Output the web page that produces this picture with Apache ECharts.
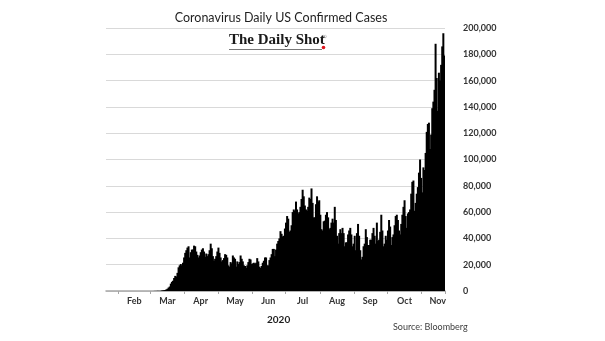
<!DOCTYPE html>
<html><head><meta charset="utf-8">
<script src="https://cdn.jsdelivr.net/npm/echarts@6/dist/echarts.min.js"></script>
<style>html,body{margin:0;padding:0;background:#fff}#c{width:605px;height:341px}</style>
</head><body><div id="c"></div>
<script>
const titleText = 'Coronavirus Daily US Confirmed Cases';
const xTitle = '2020';
const sourceText = 'Source: Bloomberg';
const logoText = 'The Daily Shot';
const monthLabels = ['Jan','Feb','Mar','Apr','May','Jun','Jul','Aug','Sep','Oct','Nov','Dec'];
const yMin = 0, yMax = 200000, yStep = 20000;
const startYear = 2020, startMonth = 0, startDay = 21;

// Daily confirmed cases, Jan 21 .. Nov 21, 2020
const jan = [1,0,0,1,0,3,0,0,0,1,1];
const feb = [1,0,3,0,0,0,0,0,1,0,1,0,1,0,1,0,0,0,0,0,18,0,0,18,0,1,3,2,8];
const mar = [7,23,19,33,77,53,166,116,75,188,365,439,633,759,1234,1717,2626,3400,5600,7000,7800,9900,11500,11000,13800,18000,19500,20500,19500,21500,25500];
const apr = [29000,31000,33000,34000,25500,29500,31500,31500,34500,34000,30000,27500,25500,27000,29500,31500,32500,30000,26000,28500,26500,28000,31000,36000,32500,26500,23000,24500,26500,30000];
const may = [33000,29000,25500,22500,23500,25000,28000,27500,25500,19500,18500,22000,21000,27000,25500,24500,18500,22500,20500,22000,27000,24500,22500,19500,19000,17500,19500,22000,24500,24000,20500];
const jun = [21000,21500,20500,21500,25000,22500,18500,17500,19000,21500,23000,25500,25500,19500,19500,23500,25500,28000,32000,32000,26500,31500,36000,38000,40000,45500,43500,41500,42000,47500];
const jul = [52000,57000,55000,45000,46000,50000,60000,62000,61000,68000,62000,59000,60000,64000,70000,77000,72000,65000,62000,61000,64000,71000,70000,78000,67000,56000,56000,66000,72000,68000,69000];
const aug = [58000,47000,46000,53000,53500,58000,60000,56000,47000,48000,52000,55000,52000,64000,54000,42000,36000,44000,47000,44000,48000,44000,34000,37000,37000,43000,46000,48000,43000,34000,36000];
const sep = [42000,31000,44000,51000,42000,31000,24000,26000,34000,36000,47000,41000,35000,35000,39000,39000,44000,48000,42000,36000,52000,38000,39000,45000,58000,46000,34000,36000,42000,39000];
const oct = [46000,54000,49000,35000,41000,43000,50000,57000,58000,54000,46000,43000,51000,58000,64000,69000,57000,48000,59000,60000,62000,74000,83000,84000,61000,67000,74000,79000,90000,100000,86000];
const nov = [75000,94000,92000,105000,121000,127000,128000,108000,119000,139000,144000,153000,188000,162000,137000,166000,160000,172000,186000,196000,179000];

const values = [].concat(jan, feb, mar, apr, may, jun, jul, aug, sep, oct, nov);

const categories = [];
const dayInfo = [];
for (let i = 0; i < values.length; i++) {
  const d = new Date(Date.UTC(startYear, startMonth, startDay + i));
  const m = d.getUTCMonth(), day = d.getUTCDate();
  const dim = new Date(Date.UTC(d.getUTCFullYear(), m + 1, 0)).getUTCDate();
  categories.push(d.toISOString().slice(0, 10));
  dayInfo.push({ m: m, day: day, mid: dim === 31 ? 16 : 15 });
}

const chart = echarts.init(document.getElementById('c'), null, { renderer: 'canvas' });
const FONT = 'Lato';
chart.setOption({
  animation: false,
  backgroundColor: '#fff',
  title: {
    text: titleText, left: 276, top: 6, textAlign: 'center',
    textStyle: { fontFamily: FONT, fontSize: 12.5, fontWeight: 'normal', color: '#1f1f1f' }
  },
  grid: { left: 106, right: 160, top: 28, bottom: 50, containLabel: false },
  xAxis: {
    type: 'category', data: categories, boundaryGap: true,
    axisLine: { show: true, lineStyle: { color: '#a6a6a6', width: 1.5 } },
    axisTick: { show: true, length: 3, lineStyle: { color: '#a6a6a6' },
      interval: function (i) { return dayInfo[i].day === 1; } },
    axisLabel: {
      interval: function (i) { return dayInfo[i].day === dayInfo[i].mid; },
      formatter: function (v, i) { return monthLabels[dayInfo[i].m]; },
      margin: 6, fontFamily: FONT, fontSize: 9, fontWeight: 'bold', color: '#333'
    },
    splitLine: { show: false }
  },
  yAxis: {
    type: 'value', position: 'right', min: yMin, max: yMax, interval: yStep,
    axisLine: { show: false }, axisTick: { show: false },
    axisLabel: {
      margin: 18, align: 'left', fontFamily: FONT, fontSize: 9, fontWeight: 'bold', color: '#333',
      formatter: function (v) { return String(v).replace(/\B(?=(\d{3})+(?!\d))/g, ','); }
    },
    splitLine: { show: true, lineStyle: { color: '#d9d9d9', width: 1 } }
  },
  series: [{
    type: 'bar', data: values, barWidth: 2, barGap: '-100%',
    itemStyle: { color: '#000' },
    emphasis: { disabled: true }, silent: true
  }],
  graphic: [
    { type: 'text', left: 267, top: 315, style: { text: xTitle, font: 'bold 10px Lato', fill: '#1f1f1f' } },
    { type: 'text', left: 393, top: 323, style: { text: sourceText, font: '9px Lato', fill: '#404040' } },
    { type: 'text', left: 229, top: 33, style: { text: logoText, font: 'bold 15px "Liberation Serif"', fill: '#1a1a1a' } },
    { type: 'text', left: 322, top: 34, style: { text: '®', font: '6px "Liberation Serif"', fill: '#1a1a1a' } },
    { type: 'line', shape: { x1: 229, y1: 49.5, x2: 322, y2: 49.5 }, style: { stroke: '#777', lineWidth: 1 } },
    { type: 'circle', shape: { cx: 323.5, cy: 47.5, r: 1.8 }, style: { fill: '#e0161e' } }
  ]
});
</script></body></html>
